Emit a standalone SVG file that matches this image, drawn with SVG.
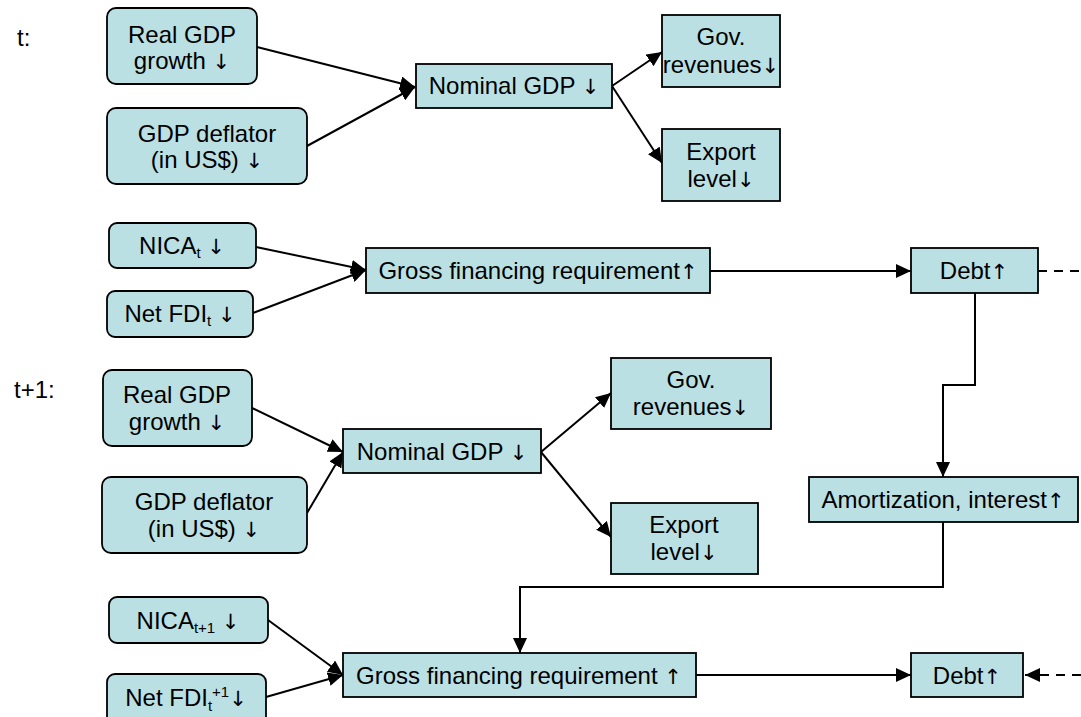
<svg xmlns="http://www.w3.org/2000/svg" width="1081" height="717" viewBox="0 0 1081 717">
<style>
.box{fill:#bbe0e3;stroke:#000;stroke-width:1.8}
.t{font-family:"Liberation Sans",Arial,sans-serif;font-size:24px;fill:#000;text-anchor:middle}
.lbl{font-family:"Liberation Sans",Arial,sans-serif;font-size:24px;fill:#000}
.a{font-family:"DejaVu Sans",sans-serif;font-size:21px;fill:#000}
.c{fill:none;stroke:#000;stroke-width:2;marker-end:url(#ah)}
.d{fill:none;stroke:#000;stroke-width:2;stroke-dasharray:9 7}
.da{marker-end:url(#ah)}
.s{font-size:15px}
</style>
<defs>
<marker id="ah" viewBox="0 0 15 14" refX="15" refY="7" markerWidth="15" markerHeight="14" markerUnits="userSpaceOnUse" orient="auto"><path d="M0,0 L15,7 L0,14 z" fill="#000" stroke="none"/></marker>
</defs>
<rect width="1081" height="717" fill="#fff"/>
<text class="lbl" x="17" y="46">t:</text>
<text class="lbl" x="14" y="398">t+1:</text>

<g id="connectors">
<line class="c" x1="257" y1="47" x2="415" y2="87"/>
<line class="c" x1="307" y1="146" x2="415" y2="87"/>
<line class="c" x1="612" y1="86" x2="662" y2="52"/>
<line class="c" x1="612" y1="86" x2="662" y2="163"/>
<line class="c" x1="256" y1="247" x2="366" y2="270"/>
<line class="c" x1="253" y1="313" x2="366" y2="270"/>
<line class="c" x1="710" y1="271" x2="911" y2="271"/>
<line class="d" x1="1038" y1="271" x2="1081" y2="271"/>
<polyline class="c" points="975,293 975,385 943,385 943,477"/>
<line class="c" x1="252" y1="408" x2="343" y2="452"/>
<line class="c" x1="307" y1="513" x2="343" y2="452"/>
<line class="c" x1="541" y1="452" x2="611" y2="393"/>
<line class="c" x1="541" y1="452" x2="611" y2="537"/>
<polyline class="c" points="943,522 943,587 520,587 520,653"/>
<line class="c" x1="268" y1="620" x2="343" y2="675"/>
<line class="c" x1="266" y1="697" x2="343" y2="675"/>
<line class="c" x1="696" y1="675" x2="911" y2="675"/>
<line class="d da" x1="1081" y1="675" x2="1025" y2="675"/>
</g>

<g id="realgdp1"><rect class="box" x="107" y="8" width="150" height="76" rx="9"/><text class="t" x="182" y="43">Real GDP</text><text class="t" x="182" y="69">growth <tspan class="a">↓</tspan></text></g>
<g id="deflator1"><rect class="box" x="107" y="108" width="200" height="76" rx="9"/><text class="t" x="207" y="142">GDP deflator</text><text class="t" x="207" y="168">(in US$) <tspan class="a">↓</tspan></text></g>
<g id="nominal1"><rect class="box" x="416" y="64" width="196" height="44"/><text class="t" x="514" y="94">Nominal GDP <tspan class="a">↓</tspan></text></g>
<g id="gov1"><rect class="box" x="662" y="15" width="118" height="72"/><text class="t" x="721" y="45">Gov.</text><text class="t" x="721" y="73">revenues<tspan class="a">↓</tspan></text></g>
<g id="export1"><rect class="box" x="662" y="129" width="118" height="72"/><text class="t" x="721" y="160">Export</text><text class="t" x="721" y="187">level<tspan class="a">↓</tspan></text></g>

<g id="nica1"><rect class="box" x="109" y="223" width="147" height="45" rx="8"/><text class="t" x="182" y="254">NICA<tspan class="s" dy="4">t</tspan><tspan dy="-4"> </tspan><tspan class="a">↓</tspan></text></g>
<g id="fdi1"><rect class="box" x="107" y="291" width="146" height="46" rx="8"/><text class="t" x="180" y="322">Net FDI<tspan class="s" dy="4">t</tspan><tspan dy="-4"> </tspan><tspan class="a">↓</tspan></text></g>
<g id="gross1"><rect class="box" x="366" y="248" width="344" height="45"/><text class="t" x="538" y="279">Gross financing requirement<tspan class="a">↑</tspan></text></g>
<g id="debt1"><rect class="box" x="911" y="248" width="127" height="45"/><text class="t" x="974" y="279">Debt<tspan class="a">↑</tspan></text></g>

<g id="realgdp2"><rect class="box" x="103" y="370" width="149" height="76" rx="9"/><text class="t" x="177" y="403">Real GDP</text><text class="t" x="177" y="430">growth <tspan class="a">↓</tspan></text></g>
<g id="deflator2"><rect class="box" x="102" y="477" width="205" height="76" rx="9"/><text class="t" x="204" y="510">GDP deflator</text><text class="t" x="204" y="537">(in US$) <tspan class="a">↓</tspan></text></g>
<g id="nominal2"><rect class="box" x="343" y="429" width="198" height="44"/><text class="t" x="442" y="460">Nominal GDP <tspan class="a">↓</tspan></text></g>
<g id="gov2"><rect class="box" x="611" y="358" width="160" height="71"/><text class="t" x="691" y="388">Gov.</text><text class="t" x="691" y="415">revenues<tspan class="a">↓</tspan></text></g>
<g id="export2"><rect class="box" x="611" y="503" width="147" height="71"/><text class="t" x="684" y="533">Export</text><text class="t" x="684" y="560">level<tspan class="a">↓</tspan></text></g>
<g id="amort"><rect class="box" x="809" y="477" width="269" height="45"/><text class="t" x="943" y="508">Amortization, interest<tspan class="a">↑</tspan></text></g>

<g id="nica2"><rect class="box" x="109" y="597" width="159" height="46" rx="8"/><text class="t" x="188" y="629">NICA<tspan class="s" dy="4">t+1</tspan><tspan dy="-4"> </tspan><tspan class="a">↓</tspan></text></g>
<g id="fdi2"><rect class="box" x="107" y="674" width="159" height="60" rx="8"/><text class="t" x="186" y="706">Net FDI<tspan class="s" dy="5">t</tspan><tspan class="s" dy="-14">+1</tspan><tspan class="a" dy="9">↓</tspan></text></g>
<g id="gross2"><rect class="box" x="343" y="653" width="353" height="44"/><text class="t" x="519" y="684">Gross financing requirement <tspan class="a">↑</tspan></text></g>
<g id="debt2"><rect class="box" x="911" y="653" width="112" height="44"/><text class="t" x="967" y="684">Debt<tspan class="a">↑</tspan></text></g>
</svg>
